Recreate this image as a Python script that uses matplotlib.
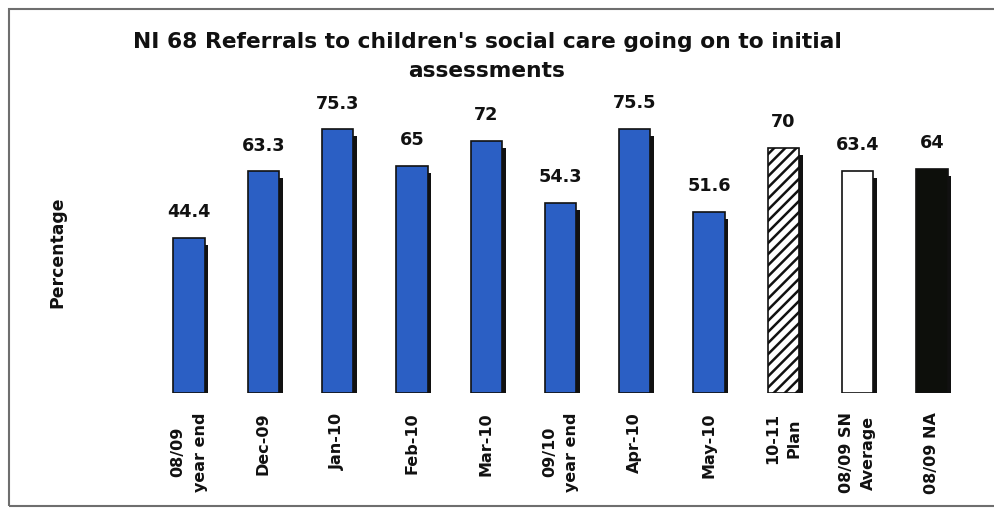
import matplotlib
matplotlib.use("Agg")
import matplotlib.pyplot as plt
from matplotlib.patches import Rectangle

categories = ["08/09\nyear end", "Dec-09", "Jan-10", "Feb-10", "Mar-10",
              "09/10\nyear end", "Apr-10", "May-10", "10-11\nPlan",
              "08/09 SN\nAverage", "08/09 NA"]
values = [44.4, 63.3, 75.3, 65, 72, 54.3, 75.5, 51.6, 70, 63.4, 64]
value_labels = ["44.4", "63.3", "75.3", "65", "72", "54.3", "75.5", "51.6", "70", "63.4", "64"]
face_colors = ["#2b5fc4"] * 8 + ["white", "white", "#0d0f0b"]
hatches = [None] * 8 + ["///", None, None]

plt.rcParams["hatch.linewidth"] = 1.8

W, H = 995, 509
fig = plt.figure(figsize=(W / 100, H / 100), dpi=100)
fig.patch.set_facecolor("white")

ax_left = 151.85 / W
ax_w = 817.3 / W
ax_bottom = 116 / H
ax_h = 280 / H
ax = fig.add_axes([ax_left, ax_bottom, ax_w, ax_h])
ax.set_xlim(-0.5, len(values) - 0.5)
ax.set_ylim(0, 80)

x = list(range(len(values)))
bw = 0.42
# shadows
ax.bar([xi + 0.05 for xi in x], [v - 1.0 for v in values], width=bw,
       bottom=-1.0, color="#111111", edgecolor="none", zorder=1)
bars = ax.bar(x, values, width=bw, color=face_colors, edgecolor="#111111",
              linewidth=1.2, zorder=2)
for b, h in zip(bars, hatches):
    if h:
        b.set_hatch(h)

for xi, v, lab in zip(x, values, value_labels):
    ax.annotate(lab, (xi, v), xytext=(0, 12.2), textcoords="offset points",
                ha="center", va="bottom", fontsize=12.7, fontweight="bold",
                color="#111111")

ax.set_xticks(x)
ax.set_xticklabels(categories, rotation=90, fontsize=11.5, fontweight="bold",
                   multialignment="center", color="#111111", linespacing=1.6)
ax.tick_params(axis="x", length=0, pad=14)
ax.set_yticks([])
for s in ax.spines.values():
    s.set_visible(False)
ax.patch.set_alpha(0)

fig.text(487 / W, 1 - 32 / H,
         "NI 68 Referrals to children's social care going on to initial\nassessments",
         ha="center", va="top", fontsize=15.7, fontweight="bold",
         color="#111111", multialignment="center", linespacing=1.55)
fig.text(57 / W, 1 - 252 / H, "Percentage", rotation=90, ha="center",
         va="center", fontsize=12.4, fontweight="bold", color="#111111")

border = Rectangle((9 / W, 1 - 506 / H), (W + 20 - 9) / W, (506 - 9) / H,
                   transform=fig.transFigure, fill=False, edgecolor="#6e6e6e",
                   linewidth=1.5, clip_on=False)
fig.add_artist(border)

fig.savefig("out.png", dpi=100)
